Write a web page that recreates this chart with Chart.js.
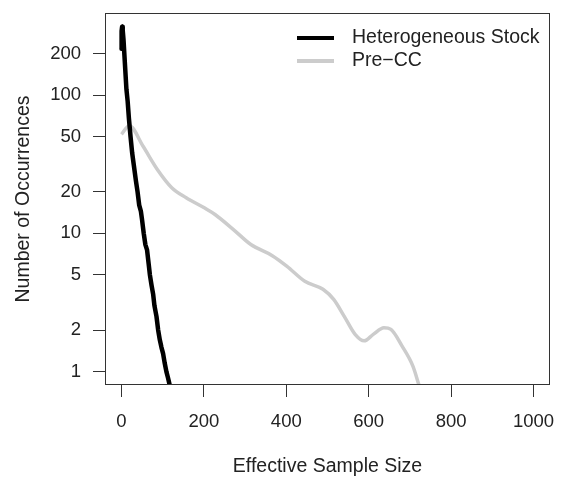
<!DOCTYPE html>
<html>
<head>
<meta charset="utf-8">
<title>Effective Sample Size</title>
<script src="https://cdn.jsdelivr.net/npm/chart.js@4.4.0/dist/chart.umd.min.js"></script>
<style>
  body { margin: 0; background: #fff; }
  #wrap { width: 563px; height: 478px; }
</style>
</head>
<body>
<div id="wrap"><canvas id="myChart" width="563" height="478"></canvas></div>
<script>
// Heterogeneous Stock
const hsX = [0, 0.3, 1.5, 3, 5, 8, 12, 15, 18, 22, 26, 30, 35, 39, 43, 47, 50, 54, 58, 62, 66, 69, 73, 77, 80, 85, 89, 93, 97, 101, 105, 109, 113, 117, 120];
const hsY = [216, 290, 312, 295, 250, 175, 110, 90, 68, 50, 38, 31, 24, 20, 16, 14.5, 12.5, 10, 8.3, 7.6, 6, 5, 4.2, 3.6, 3.0, 2.5, 2.0, 1.7, 1.5, 1.35, 1.15, 1.0, 0.9, 0.8, 0.7];

// Pre-CC
const preX = [0, 19, 52, 87, 122, 157, 201, 227, 271, 314, 366, 401, 445, 489, 515, 541, 567, 589, 611, 637, 654, 681, 707, 722, 735];
const preY = [52, 60, 42.8, 29, 21.4, 18.1, 15.3, 13.7, 10.7, 8.3, 6.9, 5.8, 4.5, 3.94, 3.33, 2.5, 1.86, 1.67, 1.86, 2.08, 2.02, 1.53, 1.10, 0.80, 0.6];

const xTicks = [0, 200, 400, 600, 800, 1000];
const yTicks = [1, 2, 5, 10, 20, 50, 100, 200];

const seriesNames = ['Heterogeneous Stock', 'Pre\u2212CC'];
const seriesColors = ['#000000', '#cccccc'];

const fontFamily = '"Liberation Sans", Arial, Helvetica, sans-serif';
const textColor = '#222';

function toPoints(xs, ys) {
    return xs.map((x, i) => ({ x: x, y: ys[i] }));
}

// caja del gráfico y leyenda al estilo R
const boxPlugin = {
    id: 'boxAndLegend',
    afterDatasetsDraw(chart) {
        const ctx = chart.ctx;
        const a = chart.chartArea;
        ctx.save();
        ctx.strokeStyle = '#333';
        ctx.lineWidth = 1;
        ctx.strokeRect(Math.round(a.left) + 0.5, Math.round(a.top) + 0.5,
            Math.round(a.right - a.left) - 1, Math.round(a.bottom - a.top) - 1);

        const x0 = a.right - 253;
        const rows = [38, 61];
        ctx.font = '19.5px ' + fontFamily;
        ctx.textBaseline = 'middle';
        ctx.textAlign = 'left';
        seriesNames.forEach((name, i) => {
            ctx.strokeStyle = seriesColors[i];
            ctx.lineWidth = 4;
            ctx.beginPath();
            ctx.moveTo(x0, rows[i]);
            ctx.lineTo(x0 + 37, rows[i]);
            ctx.stroke();
            ctx.fillStyle = textColor;
            ctx.fillText(name, x0 + 55, rows[i]);
        });
        ctx.restore();
    }
};

function noPadding(scale) {
    scale.paddingLeft = 0;
    scale.paddingRight = 0;
    scale.paddingTop = 0;
    scale.paddingBottom = 0;
}

const config = {
    type: 'line',
    data: {
        datasets: [
            {
                label: seriesNames[0],
                data: toPoints(hsX, hsY),
                borderColor: seriesColors[0],
                borderWidth: 4.5,
                borderJoinStyle: 'round',
                borderCapStyle: 'round',
                pointRadius: 0,
                tension: 0
            },
            {
                label: seriesNames[1],
                data: toPoints(preX, preY),
                borderColor: seriesColors[1],
                borderWidth: 3.5,
                borderJoinStyle: 'round',
                pointRadius: 0,
                cubicInterpolationMode: 'monotone'
            }
        ]
    },
    options: {
        responsive: false,
        animation: false,
        devicePixelRatio: 1,
        layout: { padding: { left: 0, right: 13, top: 13, bottom: 0 } },
        plugins: {
            legend: { display: false },
            tooltip: { enabled: false }
        },
        scales: {
            x: {
                type: 'linear',
                min: -40,
                max: 1040,
                afterBuildTicks: scale => { scale.ticks = xTicks.map(v => ({ value: v })); },
                afterFit: scale => { scale.height = 93; noPadding(scale); },
                border: { display: false },
                grid: { drawOnChartArea: false, drawTicks: true, tickLength: 12, color: '#333' },
                ticks: {
                    autoSkip: false,
                    maxRotation: 0,
                    padding: 14,
                    color: textColor,
                    font: { family: fontFamily, size: 18.5 },
                    callback: v => String(v)
                },
                title: {
                    display: true,
                    text: 'Effective Sample Size',
                    color: textColor,
                    font: { family: fontFamily, size: 19.5 },
                    padding: { top: 0, bottom: 0 }
                }
            },
            y: {
                type: 'logarithmic',
                min: 0.801,
                max: 392,
                afterBuildTicks: scale => { scale.ticks = yTicks.map(v => ({ value: v })); },
                afterFit: scale => { scale.width = 105; noPadding(scale); },
                border: { display: false },
                grid: { drawOnChartArea: false, drawTicks: true, tickLength: 12, color: '#333' },
                ticks: {
                    autoSkip: false,
                    padding: 12,
                    color: textColor,
                    font: { family: fontFamily, size: 18.5 },
                    callback: v => String(v)
                },
                title: {
                    display: true,
                    text: 'Number of Occurrences',
                    color: textColor,
                    font: { family: fontFamily, size: 19.5 },
                    padding: { top: 12, bottom: 0 }
                }
            }
        }
    },
    plugins: [boxPlugin]
};

new Chart(document.getElementById('myChart'), config);
</script>
</body>
</html>
